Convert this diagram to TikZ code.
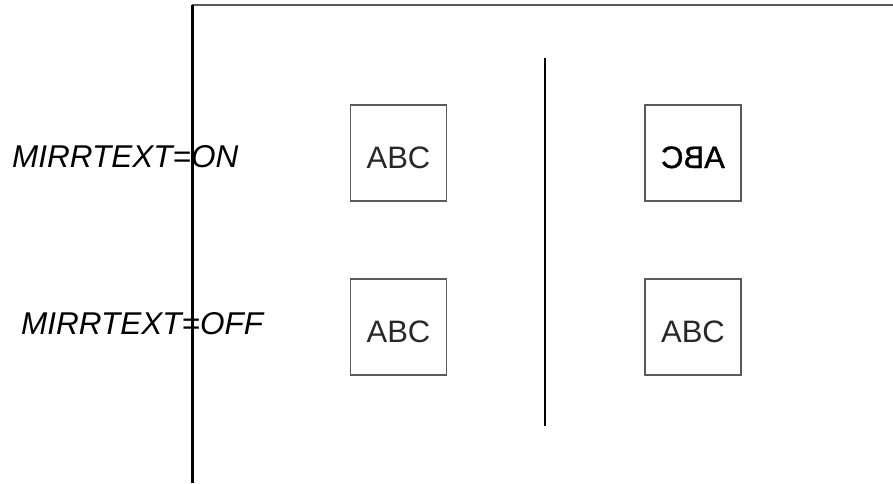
\documentclass[tikz,border=0pt]{standalone}
\usepackage{fontspec}
\setmainfont{Liberation Sans}
\newfontfamily\mirrfont[FakeBold=1]{Liberation Sans}
\usepackage{xcolor}
\usepackage{tikz}
\usetikzlibrary{positioning}
\definecolor{framegray}{RGB}{90,90,90}
\definecolor{textgray}{RGB}{40,40,40}

\begin{document}
\begin{tikzpicture}[x=1pt, y=-1pt,
        sample/.style={rectangle, draw=framegray, line width=1.2pt, minimum width=96pt, minimum height=96pt, inner sep=0pt, text height=30pt, text depth=0pt, font=\fontsize{31}{33}\selectfont, text=textgray},
        setting/.style={font=\fontsize{31.5}{34}\selectfont\itshape, inner sep=0pt}
    ]
        \useasboundingbox (0,0) rectangle (893,483);
        % frame
        \draw[framegray, line width=1.5pt] (192,5) -- (893,5);
        \draw[black, line width=3pt] (192,5) -- (192,483);
        \draw[black, line width=2pt] (545,58) -- (545,426);
        % samples
        \node[sample] (onleft) at (398.5,153) {ABC};
        \node[sample, text=black] (onright) at (693,153) {\reflectbox{\mirrfont ABC}};
        \node[sample] (offleft) at (398.5,327) {ABC};
        \node[sample] (offright) at (693,327) {ABC};
        % settings
        \node[setting, anchor=west] (mirron) at (12,156.5) {MIRRTEXT=ON};
        \node[setting, anchor=west] (mirroff) at (21,324) {MIRRTEXT=OFF};
    \end{tikzpicture}
\end{document}
